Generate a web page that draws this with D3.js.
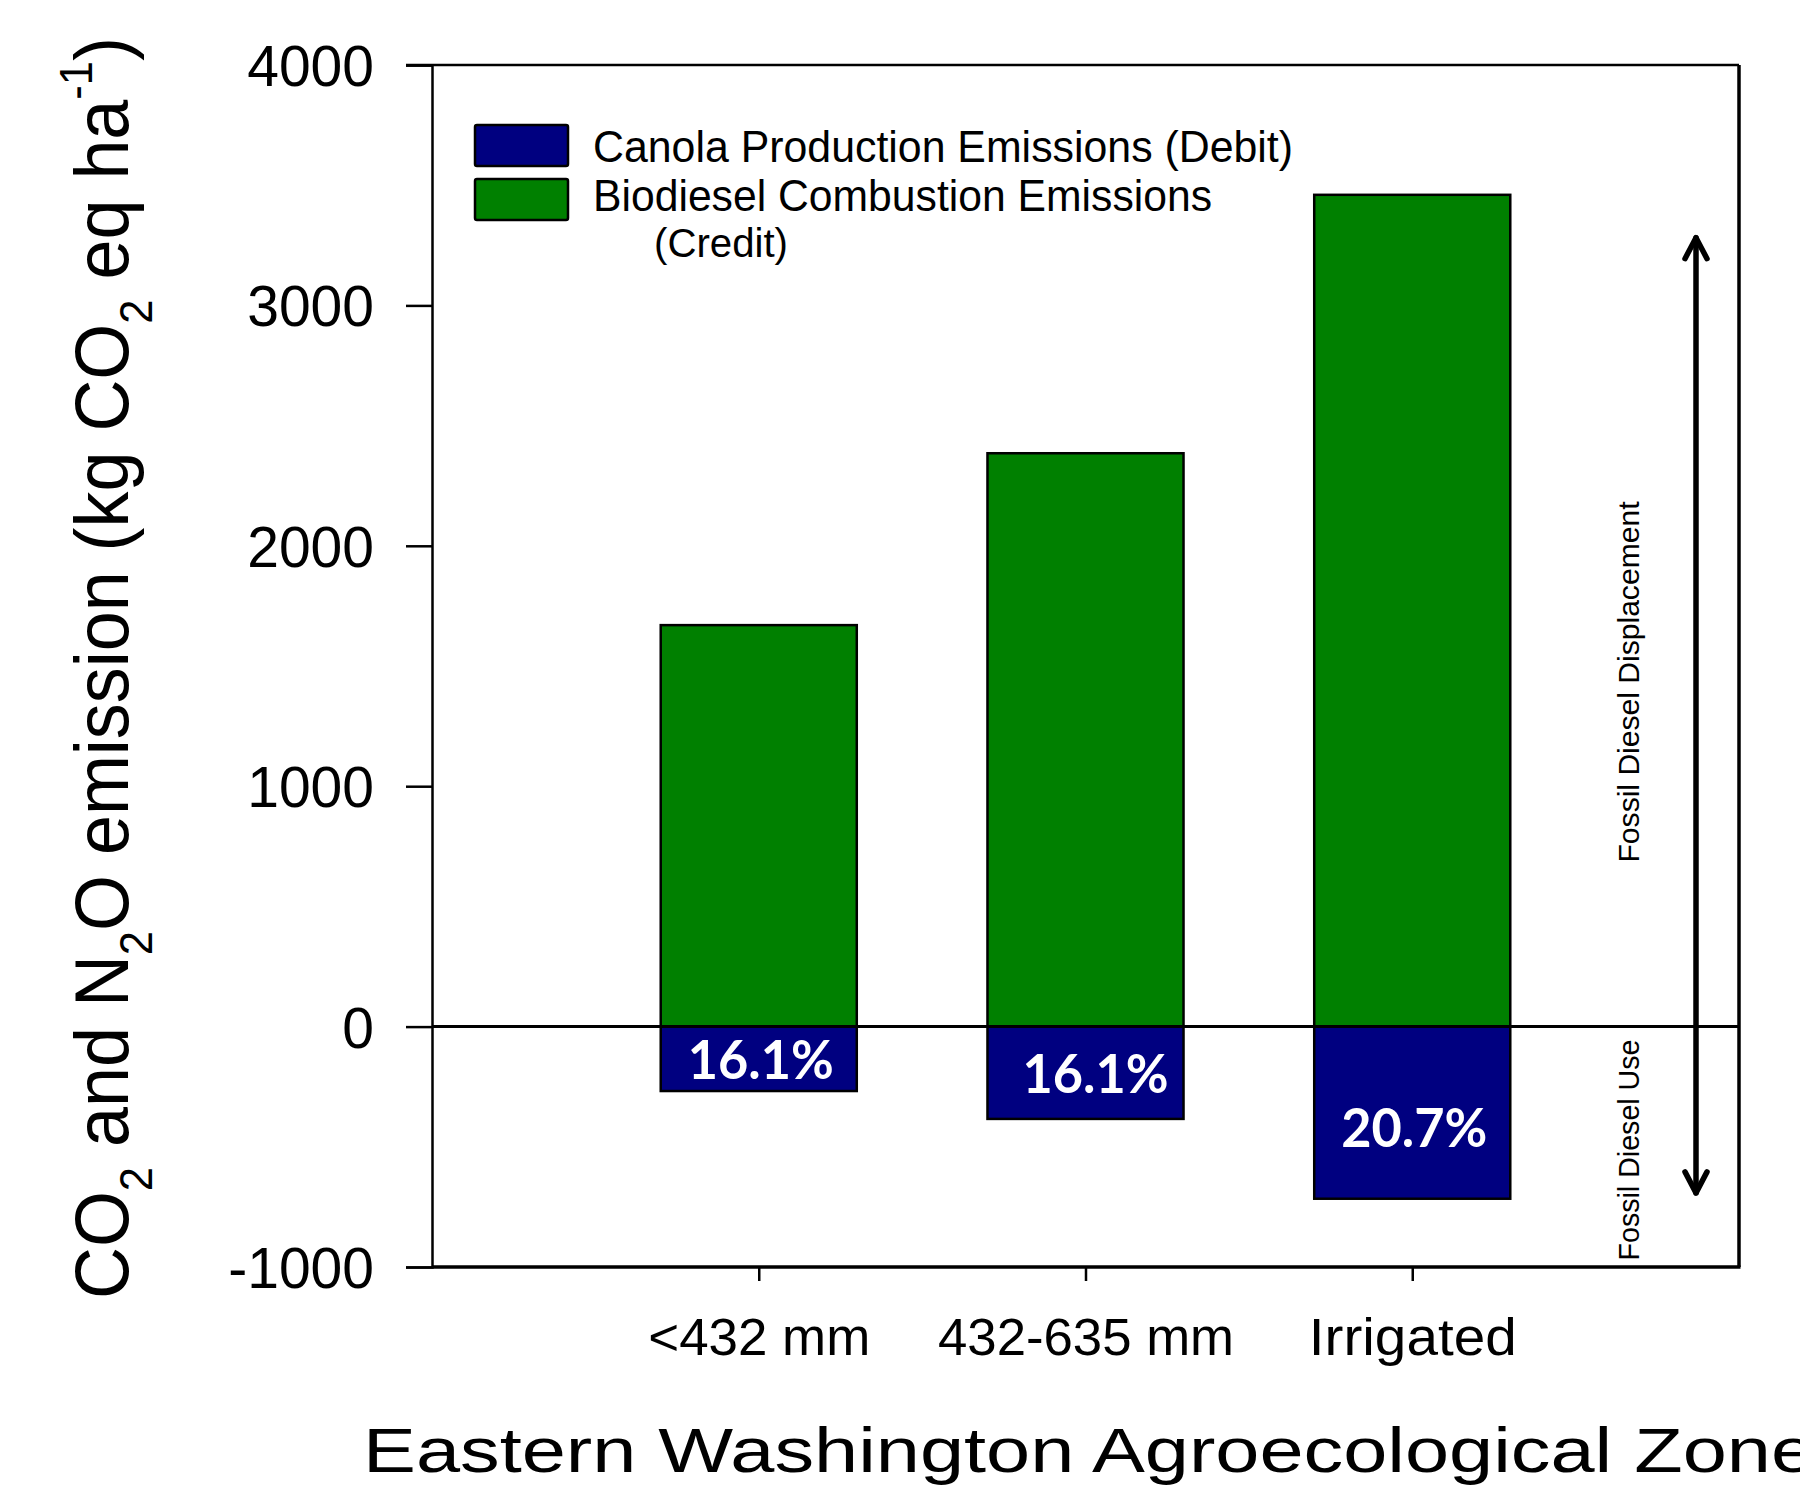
<!DOCTYPE html>
<html lang="en">

<head>
	<meta charset="UTF-8">
	<title>canola emissions</title>
	<script type="text/javascript" src="https://cdn.jsdelivr.net/npm/d3@7/dist/d3.min.js" charset="UTF-8"></script>
	<style>
		body { margin: 0; background: #fff; }
		text { font-family: "Liberation Sans", Arial, sans-serif; fill: #000; }
	</style>
</head>

<body>
	<script>
	// data
	var zones = ['<432 mm', '432-635 mm', 'Irrigated'];
	var credit = [1670, 2385, 3460];      // biodiesel combustion (credit)
	var debit = [-268, -384, -716];       // canola production (debit)
	var pctLabels = ['16.1%', '16.1%', '20.7%'];
	var yTicks = [-1000, 0, 1000, 2000, 3000, 4000];
	var legendNames = ['Canola Production Emissions (Debit)', 'Biodiesel Combustion Emissions'];
	var arrowRange = [-700, 3290];

	var width = 1800,
		height = 1492;

	var padding = {
		top: 65,
		bottom: 225,
		left: 432,
		right: 61
	};

	var blue = '#000080',
		green = '#008000';

	var svg = d3.select('body').append('svg')
		.attr('width', width)
		.attr('height', height);

	var plotRight = width - padding.right;
	var plotBottom = height - padding.bottom;

	var xScale = d3.scalePoint()
		.domain(zones)
		.range([padding.left, plotRight])
		.padding(1);
	var barW = xScale.step() * 0.6;

	var yScale = d3.scaleLinear()
		.domain([-1000, 4000])
		.range([plotBottom, padding.top]);

	function drawBars() {
		var g = svg.append('g');

		g.selectAll('rect.credit')
			.data(credit)
			.enter().append('rect')
			.attr('class', 'credit')
			.attr('x', (d, i) => xScale(zones[i]) - barW / 2)
			.attr('y', d => yScale(d))
			.attr('width', barW)
			.attr('height', d => yScale(0) - yScale(d))
			.attr('fill', green)
			.attr('stroke', '#000')
			.attr('stroke-width', 2.5);

		g.selectAll('rect.debit')
			.data(debit)
			.enter().append('rect')
			.attr('class', 'debit')
			.attr('x', (d, i) => xScale(zones[i]) - barW / 2)
			.attr('y', yScale(0))
			.attr('width', barW)
			.attr('height', d => yScale(d) - yScale(0))
			.attr('fill', blue)
			.attr('stroke', '#000')
			.attr('stroke-width', 2.5);

		g.selectAll('text.pct')
			.data(pctLabels)
			.enter().append('text')
			.attr('class', 'pct')
			.attr('x', (d, i) => xScale(zones[i]) + (i == 1 ? 10 : 2))
			.attr('y', (d, i) => (yScale(0) + yScale(debit[i])) / 2 + (i == 2 ? 15 : 1))
			.attr('dy', '0.36em')
			.attr('text-anchor', 'middle')
			.style('font-family', '"Lato", "Liberation Sans", sans-serif')
			.style('font-weight', 'bold')
			.style('font-size', '54px')
			.style('fill', '#fff')
			.attr('textLength', 146)
			.attr('lengthAdjust', 'spacingAndGlyphs')
			.text(d => d);
	}

	function drawAxis() {
		var yAxis = d3.axisLeft(yScale)
			.tickValues(yTicks)
			.tickSize(26)
			.tickPadding(32)
			.tickFormat(d3.format('d'));

		var gy = svg.append('g')
			.attr('transform', `translate(${padding.left},0)`)
			.call(yAxis);
		gy.select('.domain').attr('stroke-width', 2.5);
		gy.selectAll('.tick line').attr('stroke-width', 2.5);
		gy.selectAll('.tick text')
			.style('font-size', '57px')
			.style('font-family', '"Liberation Sans", Arial, sans-serif')
			.attr('dy', '0.36em')
			.text(d => d < 0 ? '-' + Math.abs(d) : d);

		var xAxis = d3.axisBottom(xScale)
			.tickSize(14)
			.tickPadding(52);

		var labelLen = [222, 296, 208];
		var gx = svg.append('g')
			.attr('transform', `translate(0,${plotBottom})`)
			.call(xAxis);
		gx.select('.domain').remove();
		gx.selectAll('.tick line').attr('stroke-width', 2.5);
		gx.selectAll('.tick text')
			.style('font-size', '51px')
			.style('font-family', '"Liberation Sans", Arial, sans-serif')
			.attr('y', 88)
			.attr('dy', 0)
			.attr('textLength', (d, i) => labelLen[i])
			.attr('lengthAdjust', 'spacingAndGlyphs');

		// frame and baseline
		svg.append('line')
			.attr('x1', padding.left - 26).attr('x2', plotRight)
			.attr('y1', yScale(4000)).attr('y2', yScale(4000))
			.attr('stroke', '#000').attr('stroke-width', 2.5);
		svg.append('line')
			.attr('x1', padding.left).attr('x2', plotRight + 1.5)
			.attr('y1', plotBottom).attr('y2', plotBottom)
			.attr('stroke', '#000').attr('stroke-width', 3.5);
		svg.append('line')
			.attr('x1', plotRight).attr('x2', plotRight)
			.attr('y1', yScale(4000)).attr('y2', plotBottom)
			.attr('stroke', '#000').attr('stroke-width', 3.5);
		svg.append('line')
			.attr('x1', padding.left).attr('x2', plotRight)
			.attr('y1', yScale(0)).attr('y2', yScale(0))
			.attr('stroke', '#000').attr('stroke-width', 3);
	}

	function drawLegend() {
		var lg = svg.append('g');
		var colors = [blue, green];
		var lens = [700, 619];

		lg.selectAll('rect')
			.data(legendNames)
			.enter().append('rect')
			.attr('x', 475)
			.attr('y', (d, i) => 125 + i * 54)
			.attr('width', 93)
			.attr('height', 41)
			.attr('rx', 2)
			.attr('fill', (d, i) => colors[i])
			.attr('stroke', '#000')
			.attr('stroke-width', 2.5);

		lg.selectAll('text')
			.data(legendNames)
			.enter().append('text')
			.attr('x', 593)
			.attr('y', (d, i) => 162 + i * 49)
			.style('font-size', '44px')
			.attr('textLength', (d, i) => lens[i])
			.attr('lengthAdjust', 'spacingAndGlyphs')
			.text(d => d);

		lg.append('text')
			.attr('x', 654)
			.attr('y', 257)
			.style('font-size', '40px')
			.attr('textLength', 134)
			.attr('lengthAdjust', 'spacingAndGlyphs')
			.text('(Credit)');
	}

	function drawArrow() {
		var ax = plotRight - 43;
		var top = yScale(arrowRange[1]),
			bot = yScale(arrowRange[0]);
		var g = svg.append('g')
			.attr('stroke', '#000')
			.attr('stroke-width', 5.5)
			.attr('stroke-linecap', 'round')
			.attr('stroke-linejoin', 'round')
			.attr('fill', 'none');

		g.append('line')
			.attr('x1', ax).attr('x2', ax)
			.attr('y1', top + 2).attr('y2', bot - 2);
		g.append('polyline')
			.attr('points', [[ax - 11, top + 23], [ax, top + 2], [ax + 11, top + 23]].join(' '));
		g.append('polyline')
			.attr('points', [[ax - 11, bot - 23], [ax, bot - 2], [ax + 11, bot - 23]].join(' '));

		var labels = [
			{ text: 'Fossil Diesel Displacement', mid: 682, len: 361 },
			{ text: 'Fossil Diesel Use', mid: 1150, len: 221 }
		];
		svg.selectAll('text.side')
			.data(labels)
			.enter().append('text')
			.attr('class', 'side')
			.attr('transform', d => `translate(${ax - 57},${d.mid}) rotate(-90)`)
			.attr('text-anchor', 'middle')
			.style('font-family', '"Liberation Sans Narrow", "Liberation Sans", sans-serif')
			.style('font-size', '29px')
			.attr('textLength', d => d.len)
			.attr('lengthAdjust', 'spacingAndGlyphs')
			.text(d => d.text);
	}

	function drawTitles() {
		var yt = svg.append('text')
			.attr('transform', 'translate(128,668) rotate(-90)')
			.attr('text-anchor', 'middle')
			.style('font-size', '76px')
			.attr('textLength', 1262)
			.attr('lengthAdjust', 'spacingAndGlyphs');

		var parts = [
			['CO', 0], ['2', 1], [' and N', 0], ['2', 1], ['O emission (kg CO', 0],
			['2', 1], [' eq ha', 0], ['-1', -1], [')', 0]
		];
		var shift = 0;
		parts.forEach(function (p) {
			var target = p[1] == 1 ? 24 : (p[1] == -1 ? -36 : 0);
			yt.append('tspan')
				.attr('dy', target - shift)
				.style('font-size', p[1] == 0 ? '76px' : '46px')
				.text(p[0]);
			shift = target;
		});

		svg.append('text')
			.attr('x', 363)
			.attr('y', 1472)
			.style('font-size', '63px')
			.attr('textLength', 1452)
			.attr('lengthAdjust', 'spacingAndGlyphs')
			.text('Eastern Washington Agroecological Zone');
	}

	drawBars();
	drawAxis();
	drawLegend();
	drawArrow();
	drawTitles();
	</script>

</body>

</html>
